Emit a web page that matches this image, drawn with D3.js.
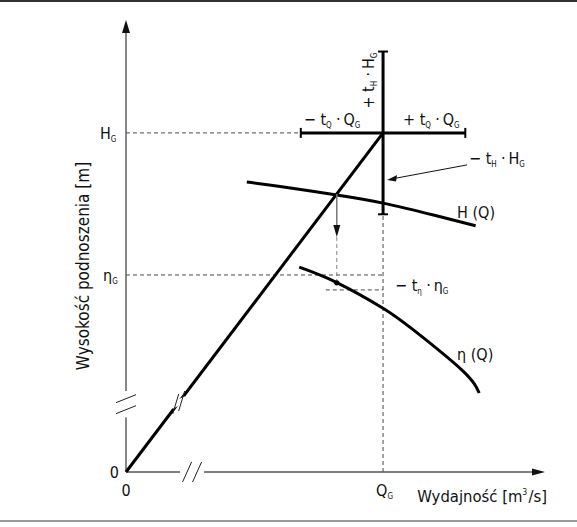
<!DOCTYPE html>
<html>
<head>
<meta charset="utf-8">
<script src="https://cdn.jsdelivr.net/npm/d3@7"></script>
<style>
  body { margin: 0; background: #fff; }
  text { font-family: "Liberation Sans Narrow", "DejaVu Sans Condensed", "Arial Narrow", sans-serif; fill: #111; }
</style>
</head>
<body>
<div id="chart"></div>
<script>
// design point, normalised so that Q_G = 1 and H_G = 1
const QG = 1
const HG = 1
const etaG = 0.581
const etaLow = 0.537          // eta_G - t_eta * eta_G
const tQ = [-0.32, 0.32]      // - t_Q*Q_G , + t_Q*Q_G
const tH = [-0.24, 0.24]      // - t_H*H_G , + t_H*H_G
const opQ = 0.82              // intersection of H(Q) with the line 0 - G

// H(Q) curve
const hqQ = [0.47, 0.60, 0.82, 1.00, 1.20, 1.36]
const hqH = [0.855, 0.842, 0.817, 0.793, 0.757, 0.726]

// eta(Q) curve
const etaQ = [0.674, 0.822, 1.00, 1.118, 1.306, 1.374]
const etaH = [0.604, 0.558, 0.483, 0.419, 0.301, 0.233]

// axis breaks
const breakY = 0.20
const breakX = 0.257
const breakLine = 0.205

const width = 577, height = 527
const xMax = 1.63, yMax = 1.333

const svg = d3.select("#chart").append("svg")
  .attr("width", width)
  .attr("height", height)

const x = d3.scaleLinear().domain([0, xMax]).range([126, 545])
const y = d3.scaleLinear().domain([0, yMax]).range([472, 20])

// frame lines
svg.append("line").attr("x1", 0).attr("x2", width).attr("y1", 1).attr("y2", 1)
  .attr("stroke", "#333").attr("stroke-width", 2)
svg.append("line").attr("x1", 0).attr("x2", width).attr("y1", 521).attr("y2", 521)
  .attr("stroke", "#999").attr("stroke-width", 2)

const dash = (x1, y1, x2, y2, col = "#333") => svg.append("line")
  .attr("x1", x1).attr("y1", y1).attr("x2", x2).attr("y2", y2)
  .attr("stroke", col).attr("stroke-width", 0.9).attr("stroke-dasharray", "4,3")

// dashed guides
dash(x(0), y(HG), x(QG + tQ[0]), y(HG))
dash(x(0), y(etaG), x(QG), y(etaG))
dash(x(opQ) - 11, y(etaLow), x(QG), y(etaLow))
dash(x(QG), y(0), x(QG), y(HG + tH[0]))

// axes
svg.append("line").attr("x1", x(0)).attr("y1", y(0)).attr("x2", x(0)).attr("y2", y(yMax) + 10)
  .attr("stroke", "#555").attr("stroke-width", 1.4)
svg.append("line").attr("x1", x(0)).attr("y1", y(0)).attr("x2", x(xMax) - 10).attr("y2", y(0))
  .attr("stroke", "#555").attr("stroke-width", 1.4)
svg.append("path")
  .attr("d", `M${x(0)},${y(yMax)} L${x(0) - 4},${y(yMax) + 13} L${x(0) + 4},${y(yMax) + 13} Z`)
  .attr("fill", "#111")
svg.append("path")
  .attr("d", `M${x(xMax)},${y(0)} L${x(xMax) - 13},${y(0) - 3.5} L${x(xMax) - 13},${y(0) + 3.5} Z`)
  .attr("fill", "#111")

// operating line 0 -> G
svg.append("line")
  .attr("x1", x(0)).attr("y1", y(0)).attr("x2", x(QG)).attr("y2", y(HG))
  .attr("stroke", "#000").attr("stroke-width", 3)

// break marks
const brk = (cx, cy, dx, dy, gx, gy) => {
  svg.append("line").attr("x1", cx - gx * 1.2).attr("y1", cy - gy * 1.2).attr("x2", cx + gx * 1.2).attr("y2", cy + gy * 1.2)
    .attr("stroke", "#fff").attr("stroke-width", 6)
  ;[-1, 1].forEach(s => {
    svg.append("line")
      .attr("x1", cx + s * gx / 2 - dx).attr("y1", cy + s * gy / 2 - dy)
      .attr("x2", cx + s * gx / 2 + dx).attr("y2", cy + s * gy / 2 + dy)
      .attr("stroke", "#222").attr("stroke-width", 1)
  })
}
brk(x(0), y(breakY), 10, -4, 0, 11)
brk(x(breakX), y(0), 4.5, -10, 10, 0)
brk(x(breakLine), y(breakLine * HG / QG), 3, -10, 6, -3)

// thick cross
svg.append("line").attr("x1", x(QG + tQ[0])).attr("y1", y(HG)).attr("x2", x(QG + tQ[1])).attr("y2", y(HG))
  .attr("stroke", "#000").attr("stroke-width", 3)
svg.append("line").attr("x1", x(QG)).attr("y1", y(HG + tH[0])).attr("x2", x(QG)).attr("y2", y(HG + tH[1]))
  .attr("stroke", "#000").attr("stroke-width", 3)
tQ.forEach(t => svg.append("line").attr("x1", x(QG + t)).attr("x2", x(QG + t))
  .attr("y1", y(HG) - 5).attr("y2", y(HG) + 5).attr("stroke", "#000").attr("stroke-width", 2))
tH.forEach(t => svg.append("line").attr("y1", y(HG + t)).attr("y2", y(HG + t))
  .attr("x1", x(QG) - 5).attr("x2", x(QG) + 5).attr("stroke", "#000").attr("stroke-width", 2))

// curves
const lineGen = d3.line().x(d => x(d[0])).y(d => y(d[1])).curve(d3.curveNatural)
svg.append("path").datum(d3.zip(hqQ, hqH)).attr("d", lineGen)
  .attr("fill", "none").attr("stroke", "#000").attr("stroke-width", 3)
svg.append("path").datum(d3.zip(etaQ, etaH)).attr("d", lineGen)
  .attr("fill", "none").attr("stroke", "#000").attr("stroke-width", 3)

// arrow from H(Q) intersection down to eta(Q)
const opH = opQ * HG / QG
const etaAtOp = etaH[1]
const tipY = y(opH) + 43
svg.append("line").attr("x1", x(opQ)).attr("x2", x(opQ)).attr("y1", y(opH)).attr("y2", tipY - 8)
  .attr("stroke", "#777").attr("stroke-width", 1.5)
svg.append("path").attr("d", `M${x(opQ)},${tipY} L${x(opQ) - 3.5},${tipY - 12} L${x(opQ) + 3.5},${tipY - 12} Z`)
  .attr("fill", "#111")
dash(x(opQ), tipY, x(opQ), y(etaAtOp), "#777")
svg.append("circle").attr("cx", x(opQ)).attr("cy", y(etaAtOp)).attr("r", 2.6).attr("fill", "#000")

// pointer to the lower part of the vertical bar
const ax2 = x(QG) + 4, ay2 = y(HG) + 47
svg.append("line").attr("x1", x(QG) + 84).attr("y1", y(HG) + 32).attr("x2", ax2 + 8).attr("y2", ay2 - 1.6)
  .attr("stroke", "#111").attr("stroke-width", 1)
svg.append("path").attr("d", `M${ax2},${ay2} L${ax2 + 10},${ay2 - 5} L${ax2 + 9},${ay2 + 1.5} Z`).attr("fill", "#111")

// texts: strings are normal, {sub} subscript, {sup} superscript
const label = (tx, ty, parts, opts = {}) => {
  const t = svg.append("text").attr("x", tx).attr("y", ty)
    .attr("font-size", opts.size || 16)
    .attr("text-anchor", opts.anchor || "start")
  if (opts.rotate) t.attr("transform", `rotate(${opts.rotate},${tx},${ty})`)
  parts.forEach(p => {
    if (typeof p === "string") t.append("tspan").text(p)
    else {
      const d = p.sub !== undefined ? 3 : -7
      t.append("tspan").attr("font-size", 8).attr("dy", d).text(p.sub !== undefined ? p.sub : p.sup)
      t.append("tspan").attr("dy", -d).text("\u200a")
    }
  })
  return t
}

label(x(0) - 26, y(HG) + 6, ["H", { sub: "G" }])
label(x(0) - 23, y(etaG) + 6, ["\u03b7", { sub: "G" }])
label(x(0) - 7, y(0) + 6, ["0"], { anchor: "end" })
label(x(0), y(0) + 24, ["0"], { anchor: "middle" })
label(x(QG) - 7, y(0) + 24, ["Q", { sub: "G" }])
label(x(xMax) + 2, y(0) + 30, ["Wydajność [m", { sup: "3" }, "/s]"], { anchor: "end", size: 16.5 })
label(89, 266, ["Wysokość podnoszenia [m]"], { anchor: "middle", rotate: -90, size: 17 })

const dot = "\u2009·\u2009"
label(x(QG + tQ[0]) + 3, y(HG) - 8, ["\u2212 t", { sub: "Q" }, dot + "Q", { sub: "G" }])
label(x(QG) + 20, y(HG) - 8, ["+ t", { sub: "Q" }, dot + "Q", { sub: "G" }])
label(x(QG) - 9, y(HG) - 53, ["+ t", { sub: "H" }, dot + "H", { sub: "G" }], { anchor: "middle", rotate: -90 })
label(x(QG) + 86, y(HG) + 31, ["\u2212 t", { sub: "H" }, dot + "H", { sub: "G" }])
label(x(QG) + 12, y(etaLow) + 1, ["\u2212 t", { sub: "\u03b7" }, dot + "\u03b7", { sub: "G" }])
label(x(QG) + 74, y(0.755) + 2, ["H (Q)"])
label(x(QG) + 74, y(0.33), ["\u03b7 (Q)"])
</script>
</body>
</html>
